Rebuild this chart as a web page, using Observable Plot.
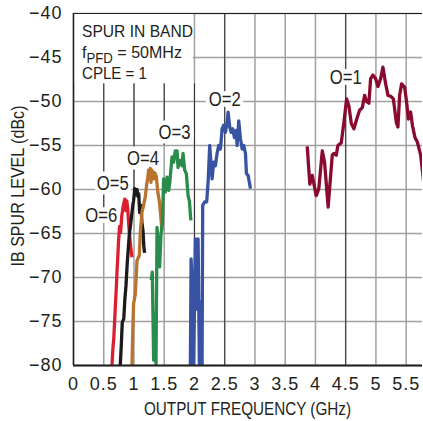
<!DOCTYPE html>
<html><head><meta charset="utf-8">
<script src="https://cdn.jsdelivr.net/npm/d3@7"></script>
<script src="https://cdn.jsdelivr.net/npm/@observablehq/plot@0.6"></script>
<style>
html,body{margin:0;padding:0;background:#fff;}
#chart svg{display:block;}
g[aria-label="x-axis tick label"], g[aria-label="y-axis tick label"]{font-family:'Liberation Sans',Arial,sans-serif;font-size:18px;letter-spacing:1px;}
</style>
</head><body><div id="chart"></div>
<script>
const xTicks = [0, 0.5, 1, 1.5, 2, 2.5, 3, 3.5, 4, 4.5, 5, 5.5];
const yTicks = [-80, -75, -70, -65, -60, -55, -50, -45, -40];

const seriesNames = ["O=6", "O=5", "O=4", "O=3", "O=2", "O=1"];
const seriesColors = ["#dc1f30", "#1b1b1b", "#b8732f", "#2a8c4a", "#3953a4", "#8a0a2f"];

const o6x = [0.636,0.649,0.666,0.679,0.69,0.707,0.719,0.735,0.745,0.762,0.778,0.798,0.815,0.831,0.848,0.864,0.881,0.897,0.911,0.927,0.947,0.967];
const o6y = [-80,-78.3,-76.9,-75.1,-73.5,-71.3,-69.4,-67.3,-65.8,-64.2,-64.9,-63.0,-62.2,-61.6,-61.1,-62.4,-61.3,-62.2,-63.8,-65.2,-66.6,-67.7];

const o5x = [0.773,0.79,0.806,0.831,0.848,0.868,0.889,0.906,0.922,0.947,0.967,0.98,0.993,1.013,1.03,1.05,1.066,1.079,1.093,1.113,1.132,1.149,1.162,1.175];
const o5y = [-80,-77.7,-75.1,-74.7,-72.6,-70.9,-68.3,-66.7,-65.2,-63.8,-62.6,-61.8,-61.3,-59.9,-60.6,-60.0,-60.8,-60.5,-62.6,-61.8,-63.8,-64.7,-66.4,-67.2];

const o4x = [0.967,0.98,0.993,1.022,1.05,1.088,1.104,1.132,1.159,1.187,1.212,1.225,1.242,1.258,1.27,1.281,1.298,1.325,1.344,1.369,1.391,1.424,1.464];
const o4y = [-80,-76.0,-73.0,-71.9,-68.1,-67.5,-64.9,-62.6,-61.8,-60.8,-59.3,-58.8,-57.8,-58.3,-57.6,-59.2,-57.8,-58.8,-58.1,-58.5,-60.1,-61.6,-64.7];

const o3x = [1.286,1.303,1.325,1.348,1.364,1.381,1.402,1.424,1.447,1.469,1.49,1.518,1.546,1.573,1.589,1.629,1.656,1.684,1.712,1.728,1.755,1.795,1.811,1.838,1.866,1.894,1.916,1.94];
const o3y = [-70.3,-69.4,-79.4,-74.1,-80,-64.3,-66.6,-68.8,-65.0,-63.9,-58.8,-60.3,-58.6,-60.1,-59.4,-56.3,-56.9,-55.6,-55.6,-57.5,-56.7,-57.3,-55.9,-57.8,-58.2,-60.7,-61.3,-63.5];

const o2x = [1.932,1.944,1.96,1.987,2.015,2.043,2.06,2.081,2.098,2.126,2.136,2.169,2.202,2.225,2.252,2.291,2.318,2.346,2.374,2.401,2.429,2.457,2.483,2.512,2.54,2.556,2.583,2.606,2.632,2.661,2.689,2.705,2.732,2.76,2.788,2.815,2.843,2.859,2.887,2.926];
const o2y = [-80,-67.9,-70.5,-80,-65.6,-73.6,-65.6,-80,-72.8,-80,-61.8,-61.4,-61.4,-59.2,-55.0,-58.8,-56.9,-57.3,-55.9,-55.0,-55.4,-53.1,-52.7,-53.5,-52.4,-51.2,-52.9,-53.5,-53.1,-54.1,-53.3,-55.0,-52.2,-54.2,-55.4,-55.0,-55.9,-58.2,-58.4,-59.9];

const o1x = [3.864,3.907,3.947,4.013,4.056,4.113,4.151,4.21,4.278,4.305,4.344,4.371,4.427,4.47,4.515,4.553,4.593,4.636,4.692,4.73,4.775,4.813,4.846,4.884,4.912,4.95,4.995,5.033,5.078,5.116,5.161,5.199,5.243,5.288,5.338,5.364,5.392,5.425,5.475,5.508,5.536,5.574,5.603,5.646,5.685,5.74,5.79];
const o1y = [-55.1,-59.4,-58.4,-60.7,-59.9,-55.6,-56.9,-62.0,-56.1,-55.9,-56.1,-55.0,-54.7,-52.4,-49.7,-50.5,-52.5,-53.1,-51.8,-51.0,-50.7,-49.3,-50.0,-50.2,-47.4,-47.0,-47.4,-48.3,-47.4,-46.1,-48.0,-49.3,-49.4,-49.7,-52.4,-52.9,-49.3,-48.0,-48.4,-50.1,-52.0,-51.2,-52.7,-54.1,-54.6,-56.1,-59.2];

const labelNames = ["O=1", "O=2", "O=3", "O=4", "O=5", "O=6"];
const labelX = [4.5, 2.5, 1.67, 1.15, 0.65, 0.46];
const labelY = [-47.3, -49.8, -53.6, -56.5, -59.3, -63.0];

const boxLines = ["SPUR IN BAND", "fPFD = 50MHz", "CPLE = 1"];

// leader lines (darker verticals) seen in the reference
const leaderX = [0.5, 1, 1.5, 2, 2.5, 4.5];
const leaderTop = [-48, -48, -48, -48, -40, -40];
const leaderBottom = [-63, -61, -55, -80, -80, -80];

const seriesX = [o6x, o5x, o4x, o3x, o2x, o1x];
const seriesY = [o6y, o5y, o4y, o3y, o2y, o1y];
const rows = [];
seriesNames.forEach((s, i) => seriesX[i].forEach((x, j) => rows.push({s, x, y: seriesY[i][j]})));
const labels = labelNames.map((t, i) => ({t, x: labelX[i], y: labelY[i]}));
const leaders = leaderX.map((x, i) => ({x, y1: leaderTop[i], y2: leaderBottom[i]}));

const fmt = d => d < 0 ? "\u2212" + Math.abs(d) : String(d);
const ink = "#231f20";
const gridColor = "#a0a0a0";
const font = "'Liberation Sans',Arial,sans-serif";

const chart = Plot.plot({
  width: 423, height: 421,
  marginLeft: 73, marginRight: 1, marginTop: 13, marginBottom: 56,
  style: {fontFamily: font, fontSize: "18px", color: ink, background: "#fff"},
  x: {domain: [0, 5.77], ticks: xTicks},
  y: {domain: [-80, -40], ticks: yTicks},
  color: {domain: seriesNames, range: seriesColors},
  marks: [
    Plot.gridX(xTicks, {stroke: gridColor, strokeOpacity: 1, strokeWidth: 1.5}),
    Plot.gridY(yTicks, {stroke: gridColor, strokeOpacity: 1, strokeWidth: 1.5}),
    Plot.ruleX(leaders, {x: "x", y1: "y1", y2: "y2", stroke: "#333", strokeWidth: 1}),
    Plot.text(labels, {x: "x", y: "y", text: "t", fill: ink, stroke: "#fff", strokeWidth: 9, paintOrder: "stroke", fontSize: 19.5}),
    Plot.line(rows, {x: "x", y: "y", z: "s", stroke: "s", strokeWidth: 3.3, strokeLinejoin: "round", strokeLinecap: "butt", clip: true}),
    Plot.ruleX([0], {stroke: ink, strokeWidth: 1.5}),
    Plot.ruleY([-40], {stroke: ink, strokeWidth: 1.2}),
    Plot.ruleY([-80], {stroke: ink, strokeWidth: 2}),
    Plot.axisX(xTicks, {tickSize: 0, tickPadding: 12, tickFormat: fmt, label: null}),
    Plot.axisY(yTicks, {tickSize: 0, tickPadding: 11, tickFormat: fmt, label: null})
  ]
});

const sx = chart.scale("x"), sy = chart.scale("y");
const svg = d3.select(chart);
const fit = (sel, len) => sel.attr("textLength", len).attr("lengthAdjust", "spacingAndGlyphs");

// annotation box (white background covering gridlines), placed after the grids
const leaderGroup = chart.querySelector('g[aria-label="rule"]');
const boxNode = document.createElementNS("http://www.w3.org/2000/svg", "g");
chart.insertBefore(boxNode, leaderGroup);
const boxG = d3.select(boxNode).attr("font-family", font).attr("text-anchor", "start");
boxG.append("rect")
  .attr("x", sx.apply(0) + 1).attr("y", sy.apply(-40) + 1)
  .attr("width", sx.apply(1.98) - sx.apply(0) - 1)
  .attr("height", sy.apply(-48) - sy.apply(-40) - 1)
  .attr("fill", "#fff");
const tx = sx.apply(0) + 9;
const top0 = sy.apply(-40);
fit(boxG.append("text").attr("x", tx).attr("y", top0 + 24).attr("fill", ink).attr("font-size", 17).attr("text-anchor", "start").text(boxLines[0]), 111);
const t2 = boxG.append("text").attr("x", tx).attr("y", top0 + 44.5).attr("fill", ink).attr("font-size", 17).attr("text-anchor", "start");
t2.append("tspan").text(boxLines[1].slice(0, 1));
t2.append("tspan").attr("dy", 5).attr("font-size", 14).text(boxLines[1].slice(1, 4));
t2.append("tspan").attr("dy", -5).text(boxLines[1].slice(4));
fit(t2, 100);
fit(boxG.append("text").attr("x", tx).attr("y", top0 + 66).attr("fill", ink).attr("font-size", 17).attr("text-anchor", "start").text(boxLines[2]), 65);

// series labels slightly condensed
svg.selectAll('g[aria-label="text"] text').each(function () { fit(d3.select(this), 32); });

// axis titles
fit(svg.append("text")
  .attr("transform", `translate(17,${(sy.apply(-40) + sy.apply(-80)) / 2 - 3}) rotate(-90)`)
  .attr("text-anchor", "middle").attr("dominant-baseline", "central")
  .attr("fill", ink).attr("font-size", 18.5).text("IB SPUR LEVEL (dBc)"), 161);
fit(svg.append("text")
  .attr("x", (sx.apply(0) + 422) / 2).attr("y", 408.5)
  .attr("text-anchor", "middle").attr("dominant-baseline", "central")
  .attr("fill", ink).attr("font-size", 18.5).text("OUTPUT FREQUENCY (GHz)"), 207);

document.getElementById("chart").appendChild(chart);
</script>
</body></html>
